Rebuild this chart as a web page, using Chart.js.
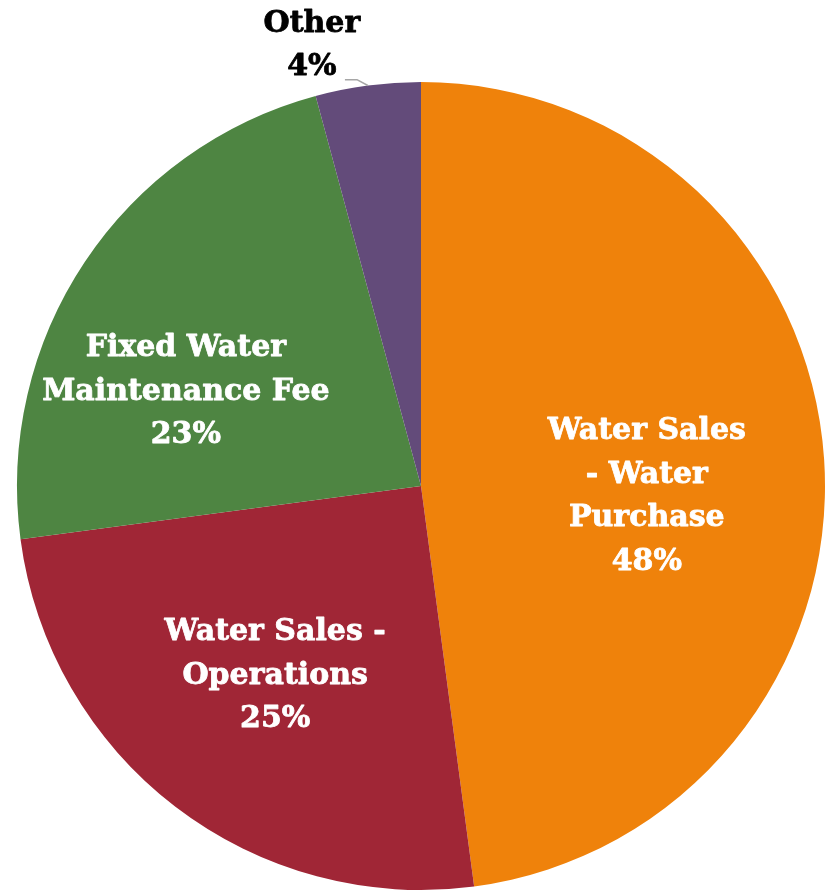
<!DOCTYPE html>
<html><head><meta charset="utf-8">
<script src="https://cdn.jsdelivr.net/npm/chart.js@4"></script>
<style>html,body{margin:0;padding:0;background:#fff;}#wrap{width:831px;height:891px;}</style>
</head><body><div id="wrap"><canvas id="c" width="831" height="891"></canvas></div>
<script>
const categories = ["Water Sales - Water Purchase", "Water Sales - Operations", "Fixed Water Maintenance Fee", "Other"];
const values = [47.9, 25.0, 22.9, 4.2];
const labelLines = [["Water Sales", "- Water", "Purchase", "48%"], ["Water Sales -", "Operations", "25%"], ["Fixed Water", "Maintenance Fee", "23%"], ["Other", "4%"]];
const colors = ["#EF820B", "#A02636", "#4E8542", "#634B7A"];

const labelPlugin = {
  id: 'sliceLabels',
  afterDatasetsDraw(chart) {
    const ctx = chart.ctx;
    const meta = chart.getDatasetMeta(0);
    const offs = [[0.559, 0.027], [-0.361, 0.470], [-0.582, -0.233], [-0.27, -1.09]];
    const lineH = 43.5;
    ctx.save();
    ctx.font = "bold 30px 'DejaVu Serif'";
    ctx.textAlign = 'center';
    ctx.textBaseline = 'middle';
    ctx.lineJoin = 'round';
    meta.data.forEach((arc, i) => {
      const cx = arc.x, cy = arc.y, r = arc.outerRadius;
      const px = cx + offs[i][0] * r, py = cy + offs[i][1] * r;
      const lines = labelLines[i];
      const n = lines.length;
      const col = i === 3 ? '#000000' : '#FFFFFF';
      ctx.fillStyle = col;
      ctx.strokeStyle = col;
      ctx.lineWidth = 0.8;
      lines.forEach((t, k) => {
        const y = py + (k - (n - 1) / 2) * lineH;
        ctx.fillText(t, px, y);
        ctx.strokeText(t, px, y);
      });
      if (i === 3) {
        const mid = (arc.startAngle + arc.endAngle) / 2;
        const ex = cx + Math.cos(mid) * r, ey = cy + Math.sin(mid) * r;
        ctx.strokeStyle = '#A6A6A6';
        ctx.lineWidth = 1.5;
        ctx.beginPath();
        ctx.moveTo(px + 33, py + 34);
        ctx.lineTo(px + 45, py + 34);
        ctx.lineTo(ex, ey);
        ctx.stroke();
      }
    });
    ctx.restore();
  }
};

new Chart(document.getElementById('c'), {
  type: 'pie',
  data: { labels: categories, datasets: [{ data: values, backgroundColor: colors, borderWidth: 0 }] },
  options: {
    responsive: false,
    animation: false,
    layout: { padding: { left: 17, right: 6, top: 82, bottom: 1 } },
    plugins: { legend: { display: false }, tooltip: { enabled: false } }
  },
  plugins: [labelPlugin]
});
</script></body></html>
